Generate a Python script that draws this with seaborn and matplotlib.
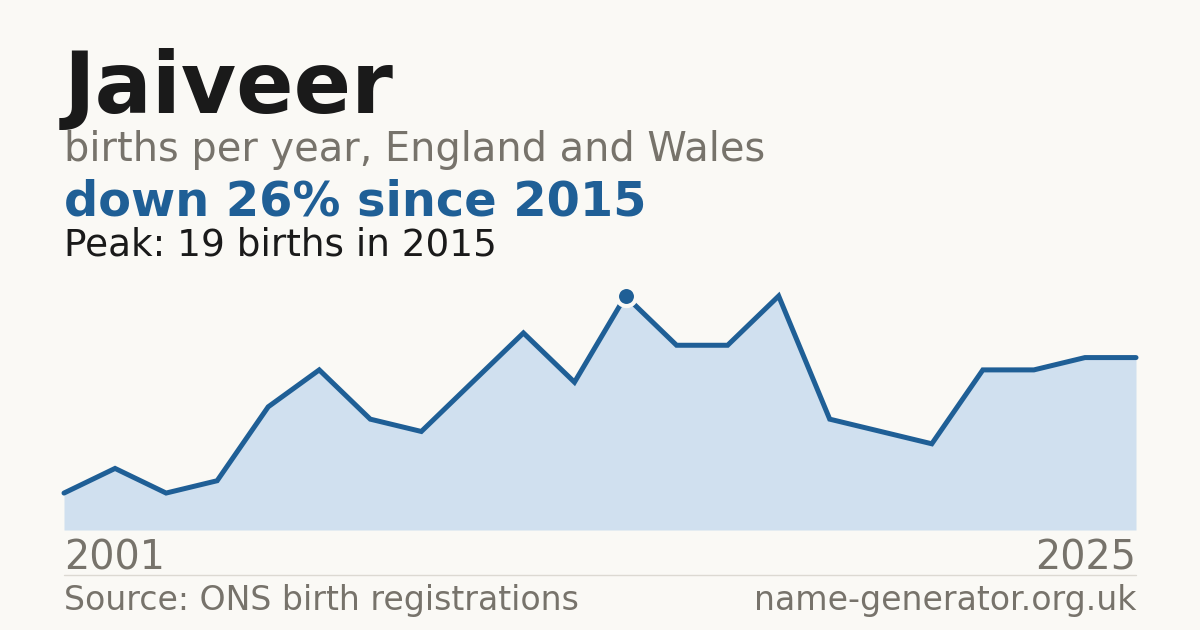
import matplotlib
matplotlib.use("Agg")
import matplotlib.pyplot as plt
import seaborn as sns
import pandas as pd

# ---------- DATA ----------
positions = list(range(22))
births = [3, 5, 3, 4, 10, 13, 9, 8, 12, 16, 12, 19, 15, 15, 19, 9, 8, 7, 13, 13, 14, 14]
peak_idx = 11
first_year, last_year = "2001", "2025"
# --------------------------

BG = "#faf9f5"
BLUE = "#1f5f96"
FILL = "#d0e0ef"
GRAY = "#77736b"
DARK = "#1a1a1a"

sns.set_theme(style="white")
plt.rcParams["font.family"] = ["DejaVu Sans"]

df = pd.DataFrame({"pos": positions, "births": births})

W, H = 1200, 630
fig = plt.figure(figsize=(12, 6.3), dpi=100, facecolor=BG)

# axes placed in pixel terms: x 64..1136, y baseline 530, top 270
ax_top, ax_bot = 270, 530
ax = fig.add_axes([64 / W, 1 - ax_bot / H, (1136 - 64) / W, (ax_bot - ax_top) / H])
ax.set_facecolor(BG)
ymax = max(births) * (ax_bot - ax_top) / (ax_bot - 296)

ax.fill_between(df["pos"], df["births"], 0, color=FILL, linewidth=0)
sns.lineplot(data=df, x="pos", y="births", ax=ax, color=BLUE, linewidth=3.6,
             solid_joinstyle="miter", clip_on=False)
ax.scatter([positions[peak_idx]], [births[peak_idx]], s=190, color=BLUE,
           edgecolor=BG, linewidth=3, zorder=5, clip_on=False)

ax.set_xlim(positions[0], positions[-1])
ax.set_ylim(0, ymax)
ax.axis("off")

# text
fig.text(64 / W, 1 - 113 / H, "Jaiveer", fontsize=61, fontweight="bold", color=DARK,
         ha="left", va="baseline")
fig.text(64 / W, 1 - 161 / H, "births per year, England and Wales", fontsize=28.7,
         color=GRAY, ha="left", va="baseline")
fig.text(64 / W, 1 - 216 / H, "down 26% since 2015", fontsize=34.5, fontweight="bold",
         color=BLUE, ha="left", va="baseline")
fig.text(64 / W, 1 - 256 / H, "Peak: 19 births in 2015", fontsize=26.9,
         color=DARK, ha="left", va="baseline")

fig.text(64 / W, 1 - 570 / H, first_year, fontsize=28.5, color=GRAY, ha="left", va="baseline")
fig.text(1136 / W, 1 - 570 / H, last_year, fontsize=28.5, color=GRAY, ha="right", va="baseline")

fig.add_artist(plt.Line2D([64 / W, 1136 / W], [1 - 574.5 / H] * 2, color="#dcd9d2",
                          linewidth=1))

fig.text(64 / W, 1 - 610 / H, "Source: ONS birth registrations", fontsize=23.9,
         color=GRAY, ha="left", va="baseline")
fig.text(1136 / W, 1 - 610 / H, "name-generator.org.uk", fontsize=23.9,
         color=GRAY, ha="right", va="baseline")

fig.savefig("out.png", dpi=100, facecolor=BG)
